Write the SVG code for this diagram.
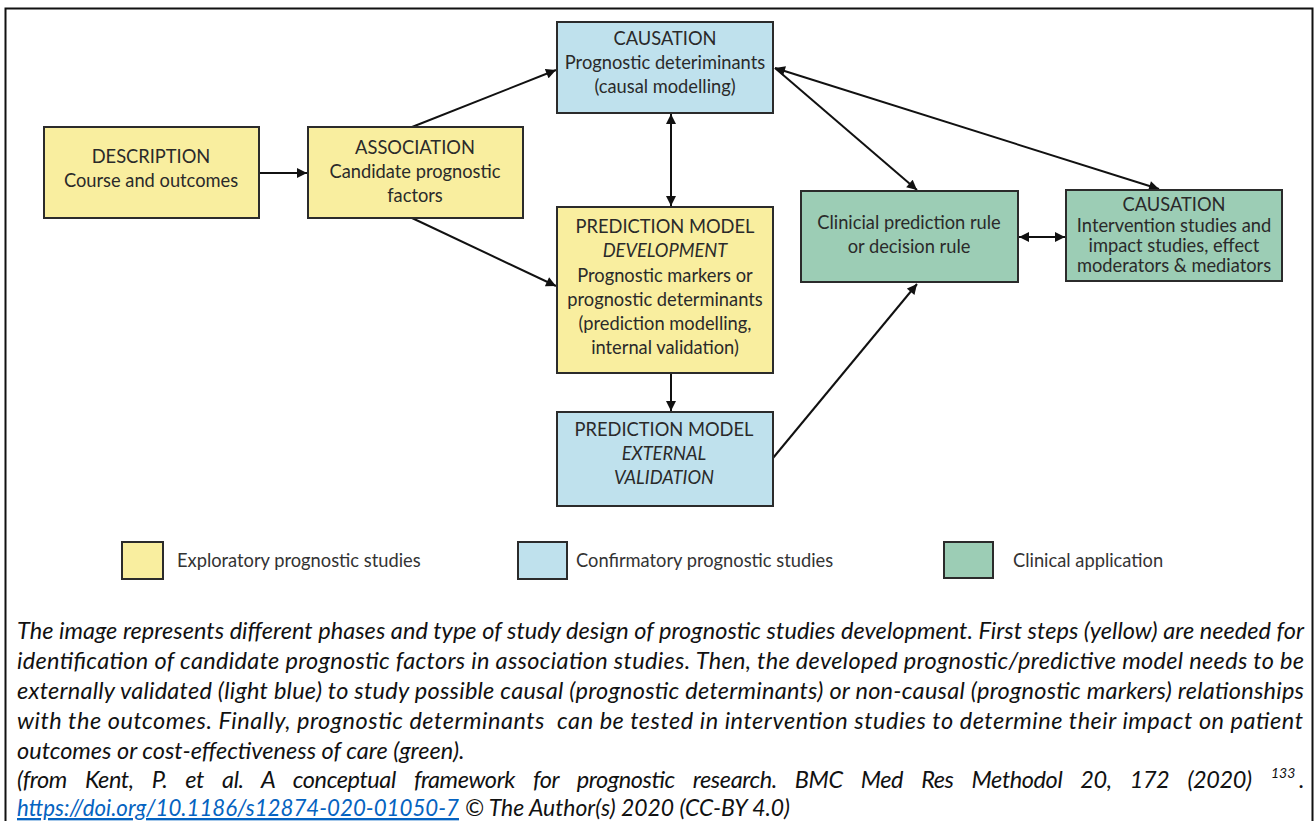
<svg xmlns="http://www.w3.org/2000/svg" width="1315" height="821" viewBox="0 0 1315 821">
  <defs>
    <marker id="arrow" viewBox="0 0 10 10" refX="10" refY="5" markerWidth="11" markerHeight="10" markerUnits="userSpaceOnUse" orient="auto-start-reverse">
      <path d="M0,0 L10,5 L0,10 Z" fill="#111"/>
    </marker>
    <style>
      .box { stroke: #2b2b2b; stroke-width: 2; }
      .yellow { fill: #F9EE9F; }
      .blue { fill: #BFE1ED; }
      .green { fill: #9CCDB5; }
      .lbl { font-family: Lato, "Open Sans", sans-serif; font-size: 18.3px; fill: #2a2a2a; text-anchor: middle; }
      .it { font-style: italic; }
      .leg { font-family: Lato, "Open Sans", sans-serif; font-size: 18.3px; fill: #333; }
      .cap { font-family: Lato, "Open Sans", sans-serif; font-size: 23.5px; font-style: italic; fill: #111; }
      .sup { font-size: 14px; }
      .link { fill: #0563C1; text-decoration: underline; }
      .conn { stroke: #111; stroke-width: 2; fill: none; }
    </style>
  </defs>

  <rect width="1315" height="821" fill="#fff"/>

  <!-- outer frame (open at the bottom) -->
  <path d="M5.5,821 L5.5,8.5 L1312.5,8.5 L1312.5,821" fill="none" stroke="#111" stroke-width="2"/>

  <!-- connectors -->
  <g id="connectors">
    <line class="conn" x1="259" y1="173" x2="307" y2="173" marker-end="url(#arrow)"/>
    <line class="conn" x1="412" y1="127" x2="556" y2="70" marker-end="url(#arrow)"/>
    <line class="conn" x1="412" y1="218" x2="556" y2="286" marker-end="url(#arrow)"/>
    <line class="conn" x1="671" y1="114" x2="671" y2="206" marker-start="url(#arrow)" marker-end="url(#arrow)"/>
    <line class="conn" x1="671" y1="373" x2="671" y2="411" marker-end="url(#arrow)"/>
    <line class="conn" x1="775" y1="68" x2="917" y2="190" marker-end="url(#arrow)"/>
    <line class="conn" x1="775" y1="68" x2="1159" y2="189" marker-start="url(#arrow)" marker-end="url(#arrow)"/>
    <line class="conn" x1="1019" y1="237" x2="1065" y2="237" marker-start="url(#arrow)" marker-end="url(#arrow)"/>
    <line class="conn" x1="773" y1="458" x2="917" y2="284" marker-end="url(#arrow)"/>
  </g>

  <!-- nodes -->
  <g id="description">
    <rect class="box yellow" x="44" y="127" width="215" height="91"/>
    <text class="lbl" x="151" y="163">DESCRIPTION</text>
    <text class="lbl" x="151" y="187">Course and outcomes</text>
  </g>

  <g id="association">
    <rect class="box yellow" x="308" y="127" width="215" height="91"/>
    <text class="lbl" x="415" y="154">ASSOCIATION</text>
    <text class="lbl" x="415" y="178">Candidate prognostic</text>
    <text class="lbl" x="415" y="202">factors</text>
  </g>

  <g id="causation-determinants">
    <rect class="box blue" x="557" y="22" width="216" height="91"/>
    <text class="lbl" x="665" y="45">CAUSATION</text>
    <text class="lbl" x="665" y="69">Prognostic deteriminants</text>
    <text class="lbl" x="665" y="93">(causal modelling)</text>
  </g>

  <g id="prediction-development">
    <rect class="box yellow" x="557" y="207" width="216" height="166"/>
    <text class="lbl" x="665" y="233">PREDICTION MODEL</text>
    <text class="lbl it" x="665" y="257">DEVELOPMENT</text>
    <text class="lbl" x="665" y="282">Prognostic markers or</text>
    <text class="lbl" x="665" y="306">prognostic determinants</text>
    <text class="lbl" x="665" y="330">(prediction modelling,</text>
    <text class="lbl" x="665" y="354">internal validation)</text>
  </g>

  <g id="prediction-external">
    <rect class="box blue" x="557" y="412" width="216" height="94"/>
    <text class="lbl" x="664" y="436">PREDICTION MODEL</text>
    <text class="lbl it" x="664" y="460">EXTERNAL</text>
    <text class="lbl it" x="664" y="484">VALIDATION</text>
  </g>

  <g id="clinical-rule">
    <rect class="box green" x="801" y="191" width="217" height="91"/>
    <text class="lbl" x="909" y="229">Clinicial prediction rule</text>
    <text class="lbl" x="909" y="253">or decision rule</text>
  </g>

  <g id="causation-intervention">
    <rect class="box green" x="1066" y="190" width="216" height="91"/>
    <text class="lbl" x="1174" y="211">CAUSATION</text>
    <text class="lbl" x="1174" y="232">Intervention studies and</text>
    <text class="lbl" x="1174" y="252">impact studies, effect</text>
    <text class="lbl" x="1174" y="272">moderators &amp; mediators</text>
  </g>

  <!-- legend -->
  <g id="legend">
    <rect class="box yellow" x="122" y="542" width="41" height="37"/>
    <text class="leg" x="177" y="567">Exploratory prognostic studies</text>
    <rect class="box blue" x="518" y="542" width="49" height="37"/>
    <text class="leg" x="576" y="567">Confirmatory prognostic studies</text>
    <rect class="box green" x="944" y="542" width="49" height="36"/>
    <text class="leg" x="1013" y="567">Clinical application</text>
  </g>

  <!-- caption (justified lines use word spacing plus a fixed length) -->
  <g id="caption">
    <text class="cap" x="17" y="639" textLength="1287" lengthAdjust="spacing">The image represents different phases and type of study design of prognostic studies development. First steps (yellow) are needed for</text>
    <text class="cap" x="17" y="669" textLength="1287" lengthAdjust="spacing">identification of candidate prognostic factors in association studies. Then, the developed prognostic/predictive model needs to be</text>
    <text class="cap" x="17" y="699" textLength="1287" lengthAdjust="spacing">externally validated (light blue) to study possible causal (prognostic determinants) or non-causal (prognostic markers) relationships</text>
    <text class="cap" x="17" y="729" textLength="1286" lengthAdjust="spacing">with the outcomes. Finally, prognostic determinants&#160; can be tested in intervention studies to determine their impact on patient</text>
    <text class="cap" x="17" y="759">outcomes or cost-effectiveness of care (green).</text>
    <text class="cap" x="17" y="788" style="word-spacing:13px" textLength="1235" lengthAdjust="spacing">(from Kent, P. et al. A conceptual framework for prognostic research. BMC Med Res Methodol 20, 172 (2020)</text>
    <text class="cap sup" x="1271" y="778">133</text>
    <text class="cap" x="1299" y="788">.</text>
    <text class="cap link" x="17" y="816" textLength="442" lengthAdjust="spacingAndGlyphs">https://doi.org/10.1186/s12874-020-01050-7</text>
    <text class="cap" x="465" y="816" textLength="325" lengthAdjust="spacingAndGlyphs">© The Author(s) 2020 (CC-BY 4.0)</text>
  </g>
</svg>
